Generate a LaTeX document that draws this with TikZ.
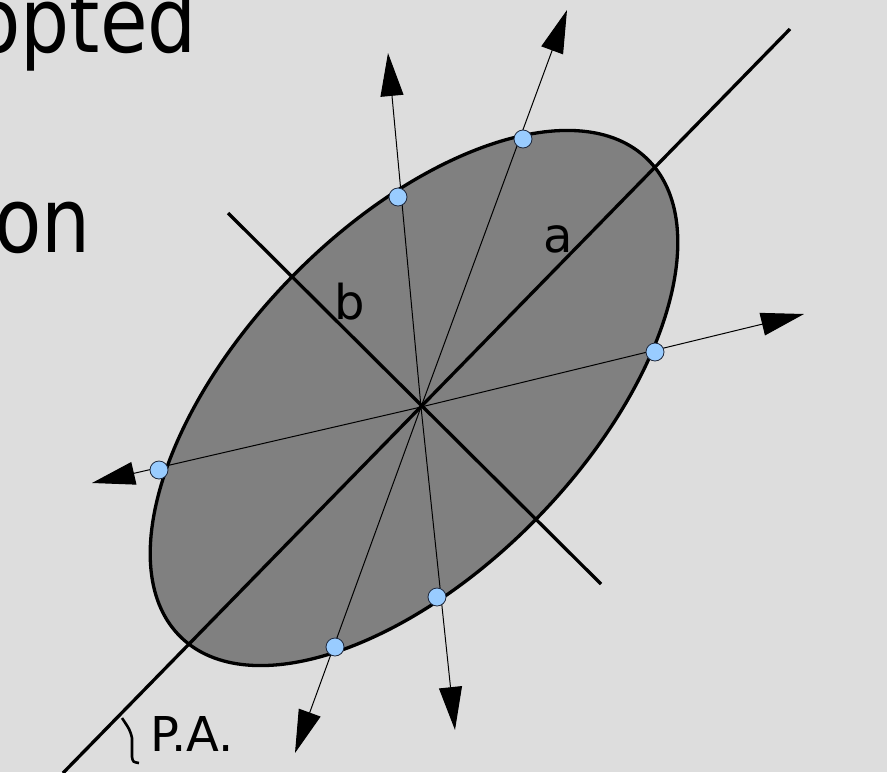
\documentclass[tikz,border=0pt]{standalone}
\usepackage{fontspec}
\setmainfont{DejaVu Sans}
\newfontfamily\slidefont[FakeStretch=0.86]{DejaVu Sans}
\usetikzlibrary{arrows.meta}
\definecolor{bggray}{RGB}{221,221,221}
\definecolor{diskgray}{RGB}{128,128,128}
\definecolor{dotblue}{RGB}{153,204,255}
\definecolor{dotedge}{RGB}{30,40,60}
\tikzset{
  axisline/.style={line width=3.3pt, black},
  ray/.style={line width=1pt, black, -{Triangle[length=43pt, width=23pt]}},
  sample/.style={circle, draw=dotedge, fill=dotblue, line width=0.8pt, minimum size=18pt, inner sep=0pt},
  lbl/.style={font=\fontsize{48}{50}\selectfont, inner sep=0pt}
}

\begin{document}
\begin{tikzpicture}[x=1pt, y=-1pt,
  slidetxt/.style={anchor=base east, inner sep=0pt, font=\slidefont\fontsize{90}{100}\selectfont}
]
  \fill[bggray] (0,0) rectangle (887,772);
  \useasboundingbox (0,0) rectangle (887,772);
  % slide text cut at the left edge
  \node [slidetxt] (txtup) at (197,52) {opted};
  \node [slidetxt] (txtlow) at (91,252) {on};

  % disc
  \draw [line width=3.3pt, fill=diskgray, rotate around={45.7:(414,398)}] (414,398) ellipse [x radius=334pt, y radius=172pt];

  \coordinate (c) at (421,407);
  \coordinate (maj1) at (63,773);
  \coordinate (maj2) at (790,29);
  \coordinate (min1) at (228,213);
  \coordinate (min2) at (601,584);

  % arrow tips
  \coordinate (t1) at (567,10);
  \coordinate (t2) at (388,53);
  \coordinate (t3) at (804,314);
  \coordinate (t4) at (92,483);
  \coordinate (t5) at (455,730);
  \coordinate (t6) at (295,753);
  \foreach \i in {1,...,6}
    \draw [ray] (c) -- (t\i);

  \draw [axisline] (maj1) -- (maj2);
  \draw [axisline] (min1) -- (min2);

  % points on the rim
  \node [sample] (p1) at (523,139) {};
  \node [sample] (p2) at (398,197) {};
  \node [sample] (p3) at (655,352) {};
  \node [sample] (p4) at (159,470) {};
  \node [sample] (p5) at (437,597) {};
  \node [sample] (p6) at (335,647) {};

  \node [lbl, anchor=base] (la) at (558,252) {a};
  \node [lbl, anchor=base] (lb) at (350,319) {b};
  \node [lbl, anchor=base west] (lpa) at (150,751) {P.A.};
  \draw [line width=2.6pt] (122,718) .. controls (130,730) .. (132,738) -- (132,757) .. controls (133,762) .. (139,763);
\end{tikzpicture}
\end{document}
